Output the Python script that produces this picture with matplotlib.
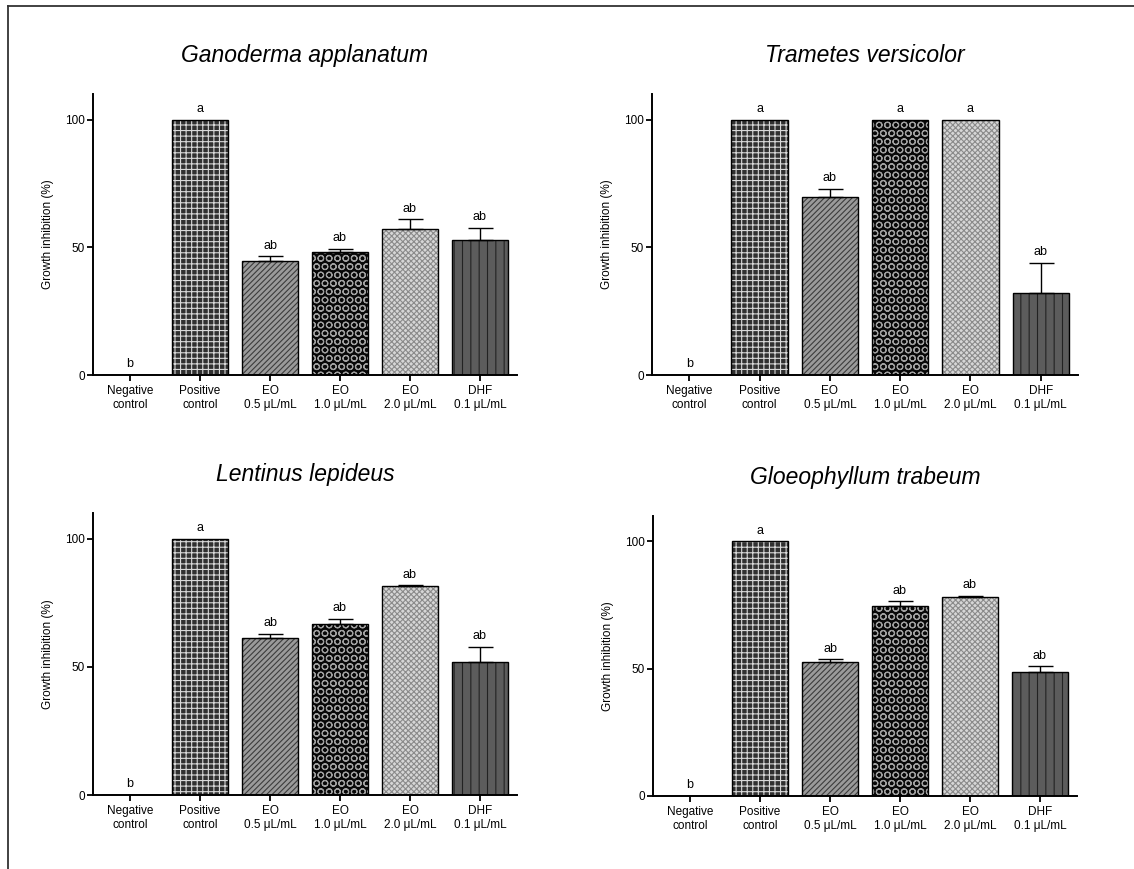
import matplotlib
matplotlib.use("Agg")
import matplotlib.pyplot as plt
from matplotlib.lines import Line2D

plt.rcParams["font.family"] = ["Liberation Sans", "DejaVu Sans"]
plt.rcParams["hatch.linewidth"] = 0.8

categories = ["Negative\ncontrol", "Positive\ncontrol", "EO\n0.5 μL/mL",
              "EO\n1.0 μL/mL", "EO\n2.0 μL/mL", "DHF\n0.1 μL/mL"]

ganoderma = [0, 100, 44.5, 48.0, 57.3, 53.0]
ganoderma_err = [0, 0, 2.0, 1.3, 3.7, 4.6]
ganoderma_letters = ["b", "a", "ab", "ab", "ab", "ab"]

trametes = [0, 100, 69.7, 100, 100, 32.0]
trametes_err = [0, 0, 3.2, 0, 0, 11.8]
trametes_letters = ["b", "a", "ab", "a", "a", "ab"]

lentinus = [0, 100, 61.2, 66.8, 81.4, 51.7]
lentinus_err = [0, 0, 1.7, 1.8, 0.4, 6.0]
lentinus_letters = ["b", "a", "ab", "ab", "ab", "ab"]

gloeophyllum = [0, 100, 52.7, 74.6, 78.3, 48.7]
gloeophyllum_err = [0, 0, 1.0, 1.9, 0.4, 2.3]
gloeophyllum_letters = ["b", "a", "ab", "ab", "ab", "ab"]

titles = ["Ganoderma applanatum", "Trametes versicolor",
          "Lentinus lepideus", "Gloeophyllum trabeum"]

# fill colour, hatch colour, hatch pattern for each treatment
styles = [
    ("white", "white", None),
    ("#303030", "#d8d8d8", "+++"),
    ("#9a9a9a", "#3c3c3c", "//////"),
    ("#080808", "#a0a0a0", "OO"),
    ("#d6d6d6", "#8a8a8a", "xxxxxx"),
    ("#5c5c5c", "#222222", "||"),
]

W, H = 1134, 869
fig = plt.figure(figsize=(W / 100, H / 100), dpi=100)

# axes boxes in pixels: left, right, zero line, top
boxes = [(93, 517, 375, 94), (652, 1078, 375, 94),
         (93, 517, 795, 513), (653, 1077, 796, 516)]

panels = [
    (ganoderma, ganoderma_err, ganoderma_letters),
    (trametes, trametes_err, trametes_letters),
    (lentinus, lentinus_err, lentinus_letters),
    (gloeophyllum, gloeophyllum_err, gloeophyllum_letters),
]

x = list(range(len(categories)))

for (vals, errs, letters), title, (l, r, y0, yt) in zip(panels, titles, boxes):
    ax = fig.add_axes([l / W, (H - y0) / H, (r - l) / W, (y0 - yt) / H])
    for i, v in enumerate(vals):
        fc, hc, hatch = styles[i]
        ax.bar(x[i], v, width=0.8, color=fc, edgecolor=hc, hatch=hatch,
               linewidth=0, zorder=2)
        ax.bar(x[i], v, width=0.8, facecolor="none", edgecolor="black",
               linewidth=1.0, zorder=3)
        if errs[i] > 0:
            ax.errorbar(x[i], v, yerr=[[0], [errs[i]]], fmt="none",
                        ecolor="black", elinewidth=1.0, capsize=9,
                        capthick=1.0, zorder=4)
        ax.text(x[i], v + errs[i] + 3, letters[i], ha="center",
                va="baseline", fontsize=9)

    ax.set_xlim(-0.53, 5.53)
    ax.set_ylim(0, 110)
    ax.set_yticks([0, 50, 100])
    ax.set_xticks(x)
    ax.set_xticklabels(categories, fontsize=8.5, linespacing=1.2)
    ax.tick_params(axis="y", labelsize=8.5, length=4, width=1.3, pad=2)
    ax.tick_params(axis="x", length=4, width=1.3, pad=3)
    ax.set_ylabel("Growth inhibition (%)", fontsize=8.5, labelpad=8)
    for side in ["top", "right"]:
        ax.spines[side].set_visible(False)
    for side in ["left", "bottom"]:
        ax.spines[side].set_linewidth(1.4)
    ax.set_title(title, fontsize=16.5, style="italic", pad=23)

# thin frame on the left and top of the figure
fig.add_artist(Line2D([7.5 / W, 7.5 / W], [0, 1 - 6 / H],
                      transform=fig.transFigure, color="#333333", lw=1.3))
fig.add_artist(Line2D([7.5 / W, 1], [1 - 6 / H, 1 - 6 / H],
                      transform=fig.transFigure, color="#333333", lw=1.3))

fig.savefig("out.png", dpi=100, facecolor="white")
